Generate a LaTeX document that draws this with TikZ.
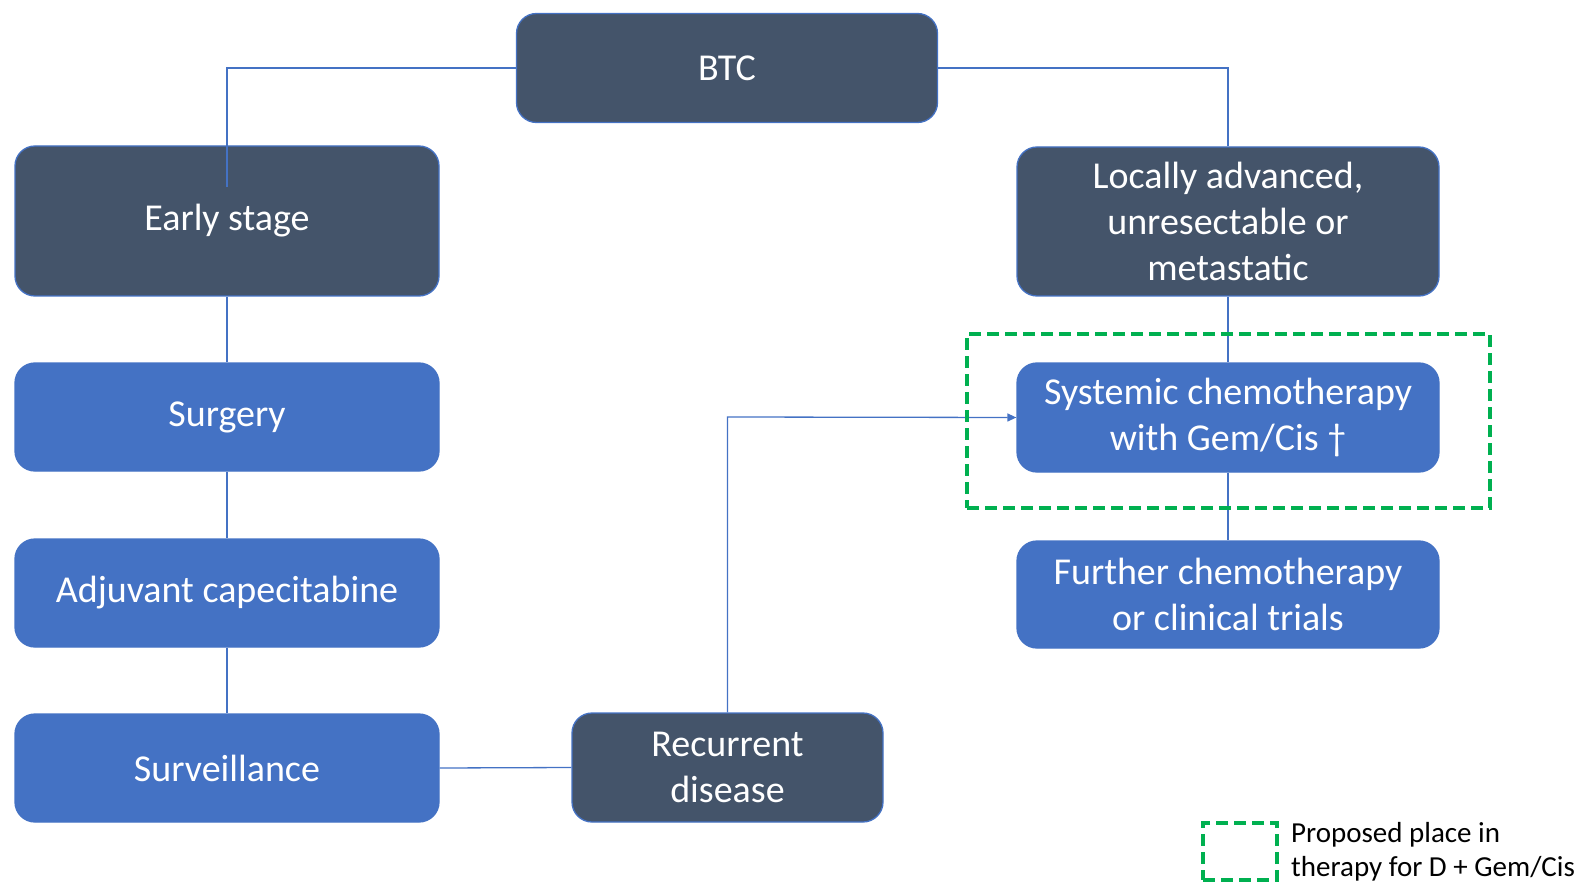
\documentclass[tikz,border=0pt]{standalone}
\usepackage{fontspec}
\setmainfont{Carlito}
\usetikzlibrary{arrows.meta}
\definecolor{darkbox}{HTML}{44546A}
\definecolor{bluebox}{HTML}{4472C4}
\definecolor{greendash}{HTML}{00B050}
\tikzset{
  basebox/.style={draw=bluebox, line width=1.3pt, rounded corners=20pt, text=white,
    font=\fontsize{38}{46}\selectfont, align=center, inner sep=0pt},
  darkstep/.style={basebox, fill=darkbox},
  bluestep/.style={basebox, fill=bluebox},
  conn/.style={draw=bluebox, line width=1.3pt},
  greenbox/.style={draw=greendash, line width=3.5pt, dash pattern=on 12pt off 6pt}
}
\begin{document}
\begin{tikzpicture}[x=1pt,y=-1pt]
\useasboundingbox (0,0) rectangle (1582,885);
\node[darkstep, minimum width=421pt, minimum height=109pt] (btc) at (727,68) {BTC};
\node[darkstep, minimum width=424pt, minimum height=150pt] (early) at (227,221) {Early stage};
\node[darkstep, minimum width=422pt, minimum height=149pt] (locally) at (1228,221.5) {Locally advanced,\\unresectable or\\metastatic};
\node[bluestep, minimum width=424pt, minimum height=108pt] (surgery) at (227,417) {Surgery};
\node[bluestep, minimum width=424pt, minimum height=108pt] (adjuv) at (227,593) {Adjuvant capecitabine};
\node[bluestep, minimum width=424pt, minimum height=108pt] (surv) at (227,768) {Surveillance};
\node[darkstep, minimum width=311pt, minimum height=109pt] (recur) at (727.5,767.5) {Recurrent\\disease};
\node[bluestep, minimum width=422pt, minimum height=109pt] (sys) at (1228,417.5) {Systemic chemotherapy\\with Gem/Cis †};
\node[bluestep, minimum width=422pt, minimum height=107pt] (further) at (1228,594.5) {Further chemotherapy\\or clinical trials};
\coordinate (earlyin) at (227,187);
\coordinate (bend) at (727.5,417);
% connectors
\draw[conn] (btc.west) -| (earlyin);
\draw[conn] (btc.east) -| (locally.north);
\draw[conn] (early.south) -- (surgery.north);
\draw[conn] (surgery.south) -- (adjuv.north);
\draw[conn] (adjuv.south) -- (surv.north);
\draw[conn] (surv.east) -- (recur.west);
\draw[conn] (locally.south) -- (sys.north);
\draw[conn] (sys.south) -- (further.north);
\draw[conn, -{Triangle[length=9pt,width=8pt]}] (recur.north) -- (bend) -- (sys.west);
% green dashed region
\node[greenbox, minimum width=523pt, minimum height=174pt, inner sep=0pt] (region) at (1228.5,421) {};
% legend
\node[greenbox, minimum width=74pt, minimum height=57pt, inner sep=0pt] (legbox) at (1240,851.5) {};
\node[anchor=north west, inner sep=0pt, align=left, font=\fontsize{29}{34}\selectfont] (legtext) at (1291,822) {Proposed place in\\therapy for D + Gem/Cis};
\end{tikzpicture}
\end{document}
